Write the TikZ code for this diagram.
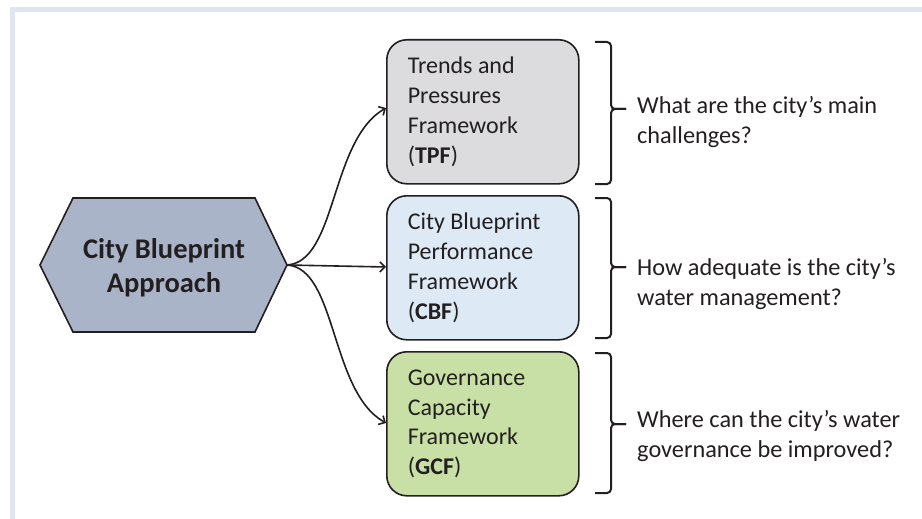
\documentclass[tikz,border=0pt]{standalone}
\usepackage{fontspec}
\setmainfont{Carlito}
\usetikzlibrary{arrows.meta}
\definecolor{frameC}{HTML}{E1E4F3}
\definecolor{ink}{HTML}{231F20}
\definecolor{hexC}{HTML}{A9B4C8}
\definecolor{tpfC}{HTML}{DCDCDE}
\definecolor{cbfC}{HTML}{DDEAF6}
\definecolor{gcfC}{HTML}{C8E0A5}
\newcommand\qbrace[3]{%
  \draw[bracestyle] (595,#1) -- (611,#1) -- (611,#3) -- (626,#3);
  \draw[bracestyle] (595,#2) -- (611,#2) -- (611,#3) -- (626,#3);}
\begin{document}
\begin{tikzpicture}[x=1pt,y=-1pt,
  fw/.style={draw=ink, line width=1.6pt, rounded corners=20pt, minimum width=192pt, minimum height=144pt,
    text width=150pt, align=flush left, font=\fontsize{24}{29.7}\selectfont, text=ink, anchor=north west},
  qtext/.style={anchor=west, align=left, font=\fontsize{24.3}{29.5}\selectfont, text=ink, inner sep=0pt},
  bracestyle/.style={draw=ink, line width=2pt, rounded corners=4pt},
  conn/.style={draw=ink, line width=1.6pt, -{Straight Barb[length=5pt,width=10pt,line width=1.6pt]}}]
\useasboundingbox (0,0) rectangle (922,519);
\fill[white] (0,0) rectangle (922,519);
\fill[frameC] (10,7) rectangle (922,12);
\fill[frameC] (10,7) rectangle (15,519);
% hexagon
\draw[ink, line width=1.6pt, fill=hexC] (40,265) -- (73,198) -- (255,198) -- (287,265) -- (255,332) -- (73,332) -- cycle;
\node[align=center, font=\fontsize{28.5}{34}\selectfont\bfseries, text=ink] (hex) at (164,268) {City Blueprint\\Approach};
\coordinate (hexR) at (287,265);
% boxes
\node[fw, fill=tpfC] (tpf) at (386,39) {Trends and\\Pressures\\Framework\\(\textbf{TPF})};
\node[fw, fill=cbfC] (cbf) at (386,195) {City Blueprint\\Performance\\Framework\\(\textbf{CBF})};
\node[fw, fill=gcfC] (gcf) at (386,351) {Governance\\Capacity\\Framework\\(\textbf{GCF})};
% connectors
\draw[conn] (hexR) .. controls (337,262) and (330,140) .. (tpf.west |- 0,108);
\draw[conn] (hexR) -- (cbf.west |- 0,267);
\draw[conn] (hexR) .. controls (337,268) and (330,392) .. (gcf.west |- 0,423);
% braces
\qbrace{42}{184}{109}
\qbrace{198}{338}{267}
\qbrace{353}{493}{424}
% questions
\node[qtext] (q1) at (637,122) {What are the city’s main\\challenges?};
\node[qtext] (q2) at (637,284) {How adequate is the city’s\\water management?};
\node[qtext] (q3) at (637,436) {Where can the city’s water\\governance be improved?};
\end{tikzpicture}
\end{document}
